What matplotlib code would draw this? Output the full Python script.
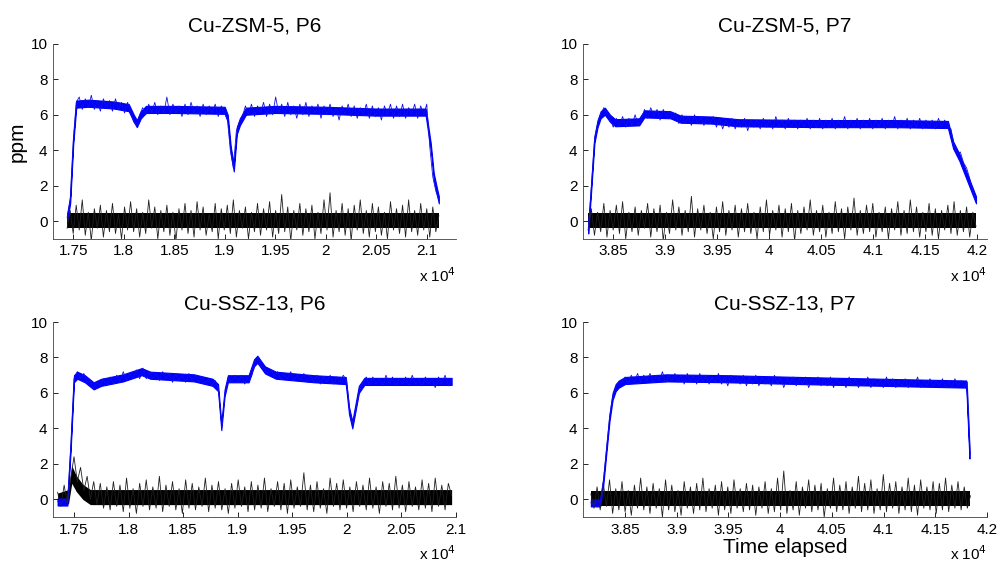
import numpy as np
import matplotlib
matplotlib.use('Agg')
import matplotlib.pyplot as plt
from matplotlib.ticker import FuncFormatter

plt.rcParams['font.family'] = ['Liberation Sans', 'DejaVu Sans']

# time spans are in units of 1e4 (shown as "x 10^4" under each axis)
titles = ['Cu-ZSM-5, P6', 'Cu-ZSM-5, P7', 'Cu-SSZ-13, P6', 'Cu-SSZ-13, P7']
spans = [[1.744, 2.112], [3.826, 4.199], [1.735, 2.096], [3.817, 4.184]]
xlims = [[1.730, 2.129], [3.821, 4.2096], [1.7308, 2.100], [3.8094, 4.200]]
xticks_p6 = [1.75, 1.8, 1.85, 1.9, 1.95, 2.0, 2.05, 2.1]
xticks_p7 = [3.85, 3.9, 3.95, 4.0, 4.05, 4.1, 4.15, 4.2]
yticks = [0, 2, 4, 6, 8, 10]

# blue trace (ppm): spike extremes, sampled evenly over the span
blue_zsm_p6 = [
    0.2, 1.2, 4.5, 6.7,
    7.0, 6.3, 6.9, 6.4, 7.1, 6.3, 6.8, 6.2, 6.9, 6.4, 6.8, 6.2, 6.9, 6.3, 6.7, 6.1, 6.7,
    6.2, 5.6, 5.4, 6.0, 6.4,
    6.0, 6.6, 6.1, 6.7, 6.0, 6.5, 6.1, 7.0, 6.0, 6.6, 6.1, 6.5, 5.9, 6.6, 6.0, 6.7,
    6.1, 6.5, 5.9, 6.6, 6.0, 6.5, 6.1, 6.6, 5.9, 6.5, 6.1,
    5.8, 4.0, 3.0, 5.1, 5.6, 5.9,
    6.5, 6.0, 6.6, 5.9, 6.5, 6.1, 6.7, 5.9, 6.6, 6.0,
    7.0, 6.1, 6.6, 5.9, 6.7, 6.0, 6.5, 5.8, 6.6, 6.0,
    6.7, 5.9, 6.5, 6.1, 6.6, 5.8, 6.5, 6.0, 6.6, 5.9,
    6.4, 5.7, 6.5, 6.0, 6.6, 5.9, 6.5, 5.8, 6.4, 6.0,
    6.6, 5.8, 6.5, 5.9, 6.4, 5.7, 6.5, 6.0, 6.6, 5.8,
    6.5, 5.9, 6.6, 5.8, 6.4, 6.0, 6.6, 5.8, 6.5, 6.0,
    6.6, 4.2, 2.5, 1.7, 1.2,
]
blue_zsm_p7 = [
    -0.5, 2.0, 4.6, 5.5, 6.0, 6.4, 6.1, 5.8,
    5.3, 5.8, 5.4, 5.9, 5.3, 5.8, 5.4, 6.0, 5.4, 5.7,
    6.3, 5.8, 6.4, 5.9, 6.3, 5.7, 6.3, 5.9, 6.2, 5.8, 6.1,
    5.5, 6.0, 5.5, 5.9, 5.4, 6.0, 5.5, 5.9, 5.4, 5.8, 5.5, 5.9,
    5.3, 5.8, 5.2, 5.7, 5.3, 5.8, 5.2, 5.7, 5.3, 5.8,
    5.1, 5.7, 5.3, 5.7, 5.2, 5.8, 5.3, 5.7, 5.2, 5.9,
    5.3, 5.7, 5.2, 5.8, 5.3, 5.7, 5.2, 5.7, 5.3, 5.8,
    5.2, 5.7, 5.3, 5.8, 5.2, 5.7, 5.3, 5.8, 5.2, 5.7,
    5.3, 5.9, 5.2, 5.7, 5.3, 5.8, 5.2, 5.7, 5.3, 5.8,
    5.2, 5.7, 5.3, 5.8, 5.2, 5.7, 5.3, 5.9, 5.2, 5.7,
    5.3, 5.8, 5.2, 5.7, 5.3, 5.8, 5.2, 5.7, 5.3, 5.7,
    5.2, 5.8, 5.3, 5.7, 5.3,
    5.2, 4.3, 3.8, 3.9, 3.3, 3.0, 2.4, 1.7, 1.2,
]
blue_ssz_p6 = [
    -0.1, -0.3, 0.0, -0.2, 3.0, 6.8,
    7.2, 6.8, 7.1,
    6.6, 6.7, 6.2, 6.6, 6.4,
    6.8, 6.4, 6.9, 6.5, 7.0, 6.6, 7.2, 6.7, 7.1, 6.8, 7.3, 6.8,
    7.4,
    6.8, 7.2, 6.8, 7.1, 6.7, 7.2, 6.8, 7.1, 6.6, 7.1, 6.7, 7.0, 6.6, 7.1, 6.7, 7.0, 6.6, 6.9,
    6.5, 6.8, 6.4, 6.7,
    6.2, 4.1, 6.0, 6.9,
    6.6, 7.0, 6.6, 7.0, 6.5, 6.9,
    6.9, 7.7, 8.0, 7.5, 7.4, 7.1, 7.3,
    6.9, 7.2, 6.8, 7.1, 6.8, 7.2, 6.7, 7.0, 6.7, 7.1, 6.6,
    7.0, 6.6, 7.0, 6.5, 6.9, 6.6, 7.0, 6.5, 6.9, 6.6, 7.0,
    6.7, 5.0, 4.2, 5.2, 6.2, 6.6,
    6.9, 6.4, 6.9, 6.5, 6.8, 6.4, 7.0, 6.5, 6.9, 6.4, 6.8, 6.5, 6.9, 6.4,
    7.0, 6.5, 6.8, 6.4, 6.9, 6.5, 6.8, 6.3, 6.9, 6.5, 7.0, 6.4, 6.7,
]
blue_ssz_p7 = [
    -0.2, -0.3, -0.1, -0.2, 1.0, 2.8, 4.6, 5.8, 6.3, 6.5, 6.6,
    6.9, 6.5, 7.0, 6.6, 7.1, 6.6, 7.0, 6.7, 7.1, 6.6,
    7.0, 6.7, 7.2, 6.6, 7.0, 6.7, 7.1, 6.6, 7.0, 6.5,
    7.1, 6.6, 7.0, 6.5, 7.1, 6.6, 7.0, 6.5, 6.9, 6.6,
    7.1, 6.5, 6.9, 6.4, 7.0, 6.6, 6.9, 6.5, 7.0, 6.4,
    6.9, 6.5, 7.0, 6.4, 6.9, 6.5, 6.8, 6.4, 7.0, 6.5,
    6.9, 6.3, 6.8, 6.5, 6.9, 6.4, 6.8, 6.5, 6.9, 6.3,
    6.8, 6.5, 6.9, 6.4, 6.8, 6.4, 6.9, 6.3, 6.8, 6.5,
    6.7, 6.3, 6.9, 6.4, 6.8, 6.3, 6.7, 6.4, 6.9, 6.3,
    6.8, 6.4, 6.7, 6.3, 6.9, 6.4, 6.8, 6.3, 6.7, 6.4,
    6.8, 6.3, 6.7, 6.4, 6.9, 6.3, 6.7, 6.4, 6.8, 6.3,
    6.7, 6.4, 6.8, 6.3, 6.7, 6.3, 6.8, 6.4, 6.7, 6.3,
    6.6,
    2.5,
]

# blue trace dense core: centre line knots (time, ppm)
blue_core_t = [
    [1.744, 1.747, 1.750, 1.753, 1.765, 1.790, 1.805, 1.810, 1.813, 1.817, 1.822,
     1.85, 1.90, 1.903, 1.906, 1.909, 1.912, 1.915, 1.921, 1.95, 2.0, 2.05, 2.099,
     2.104, 2.107, 2.110, 2.112],
    [3.826, 3.829, 3.832, 3.835, 3.838, 3.842, 3.847, 3.852, 3.875, 3.880, 3.905,
     3.915, 3.945, 3.97, 4.05, 4.12, 4.172, 4.177, 4.183, 4.189, 4.195, 4.199],
    [1.735, 1.744, 1.747, 1.750, 1.753, 1.760, 1.768, 1.775, 1.795, 1.812, 1.820,
     1.86, 1.877, 1.882, 1.885, 1.888, 1.891, 1.910, 1.915, 1.918, 1.925, 1.935,
     1.97, 1.999, 2.002, 2.005, 2.008, 2.011, 2.016, 2.096],
    [3.817, 3.826, 3.829, 3.832, 3.835, 3.838, 3.841, 3.844, 3.850, 3.89, 3.95,
     4.02, 4.10, 4.180, 4.183],
]
blue_core_c = [
    [0.2, 1.2, 4.5, 6.6, 6.65, 6.55, 6.4, 5.8, 5.5, 6.0, 6.3,
     6.3, 6.25, 5.8, 4.0, 3.0, 5.1, 5.6, 6.2, 6.3, 6.25, 6.15, 6.15,
     4.2, 2.5, 1.7, 1.2],
    [-0.5, 2.0, 4.6, 5.5, 6.0, 6.2, 5.8, 5.55, 5.6, 6.05, 6.0,
     5.75, 5.7, 5.55, 5.5, 5.5, 5.45, 4.3, 3.6, 2.7, 1.8, 1.2],
    [-0.15, -0.15, 3.0, 6.8, 7.0, 6.8, 6.4, 6.6, 6.85, 7.2, 7.0,
     6.85, 6.6, 6.3, 4.1, 6.0, 6.8, 6.8, 7.7, 7.9, 7.3, 7.0,
     6.8, 6.7, 5.0, 4.2, 5.2, 6.2, 6.65, 6.65],
    [-0.2, -0.2, 1.0, 2.8, 4.6, 5.8, 6.3, 6.5, 6.7, 6.85, 6.8,
     6.7, 6.6, 6.5, 2.5],
]

# black trace (ppm): spike extremes, sampled evenly over the span
black_zsm_p6 = [
    -0.4, 0.6, -0.7, 0.9, -0.5, 1.2, -0.8, 0.5, -1.1, 0.7, -0.4, 0.9, -0.9, 0.6, -0.6, 1.0, -0.7, 0.4, -1.0, 0.8,
    -0.5, 1.1, -0.6, 0.7, -0.9, 0.5, -0.7, 1.2, -0.4, 0.8, -1.0, 0.6, -0.6, 0.9, -0.8, 0.5, -1.1, 0.7, -0.5, 1.0,
    -0.7, 0.6, -0.9, 1.1, -0.5, 0.8, -0.8, 0.4, -0.6, 1.0, -1.0, 0.7, -0.5, 0.9, -0.7, 1.2, -0.9, 0.6, -0.4, 0.8,
    -1.0, 0.5, -0.6, 1.0, -0.8, 0.7, -0.5, 1.1, -0.9, 0.6, -0.7, 1.5, -0.6, 0.8, -1.1, 0.6, -0.5, 1.0, -0.8, 0.7,
    -0.6, 0.9, -1.0, 0.5, -0.7, 1.2, -0.5, 1.6, -0.9, 0.6, -0.6, 1.0, -0.8, 0.7, -1.1, 0.9, -0.5, 1.2, -0.7, 0.6,
    -0.9, 1.0, -0.6, 0.8, -0.8, 0.5, -1.0, 1.1, -0.5, 0.7, -0.7, 0.9, -0.9, 1.2, -0.6, 0.6, -0.8, 1.0, -0.5, 0.7,
    -0.9, 0.8, -0.6, 0.3,
]
black_zsm_p7 = [
    -0.5, 0.7, -0.8, 0.5, -0.6, 1.0, -0.9, 0.6, -0.5, 0.9,
    -0.7, 1.1, -1.0, 0.5, -0.6, 0.8, -0.8, 0.6, -0.4, 1.0,
    -0.9, 0.7, -0.6, 0.9, -1.1, 0.5, -0.7, 1.2, -0.5, 0.8,
    -0.8, 0.6, -0.6, 1.4, -0.9, 0.7, -0.5, 0.9, -0.7, 0.5,
    -1.0, 0.8, -0.6, 1.1, -0.8, 0.6, -0.5, 0.9, -0.9, 0.7,
    -0.6, 1.0, -0.7, 0.5, -1.0, 0.8, -0.6, 1.2, -0.8, 0.6,
    -0.5, 0.9, -0.9, 0.7, -0.6, 1.0, -1.1, 0.6, -0.7, 0.8,
    -0.5, 1.2, -0.8, 0.6, -0.6, 0.9, -0.9, 0.5, -0.7, 1.1,
    -0.6, 0.7, -1.0, 0.8, -0.5, 1.3, -0.8, 0.6, -0.7, 0.9,
    -0.6, 1.0, -0.9, 0.5, -0.6, 0.8, -1.0, 0.7, -0.5, 1.1,
    -0.8, 0.6, -0.7, 1.2, -0.6, 0.8, -0.9, 0.5, -0.6, 1.0,
    -0.8, 0.7, -1.0, 0.6, -0.5, 0.9, -0.7, 1.1, -0.8, 0.6,
    -0.6, 0.8, -0.9, 0.5, -0.3,
]
black_ssz_p6 = [
    0.4, -0.4, 0.8, -0.3,
    1.2, 2.4, 1.0, 1.8, 0.5, 1.3, 0.0, 1.0, -0.3, 0.9,
    -0.5, 0.7, -0.6, 1.0, -0.4, 0.8, -0.7, 1.2, -0.5, 0.6,
    -0.8, 0.9, -0.4, 1.1, -0.6, 0.7, -0.5, 1.3, -0.7, 0.8,
    -0.4, 1.0, -0.6, 0.6, -0.8, 1.1, -0.5, 0.9, -0.6, 0.7,
    -0.4, 1.2, -0.7, 0.8, -0.5, 1.0, -0.6, 0.6, -0.8, 0.9,
    -0.5, 1.1, -0.4, 0.7, -0.7, 1.0, -0.6, 0.8, -0.5, 1.2,
    -0.7, 0.6, -0.4, 1.0, -0.6, 0.9, -0.8, 1.1, -0.5, 0.7,
    -0.4, 1.5, -0.6, 0.8, -0.7, 1.0, -0.5, 0.6, -0.8, 1.2,
    -0.4, 0.9, -0.6, 1.1, -0.5, 0.7, -0.7, 1.0, -0.4, 0.8,
    -0.6, 1.2, -0.5, 0.7, -0.8, 1.0, -0.4, 0.9, -0.6, 1.3,
    -0.5, 0.8, -0.7, 1.0, -0.4, 0.7, -0.6, 1.1, -0.5, 0.9,
    -0.7, 1.2, -0.4, 0.8, -0.6, 0.9, 0.2,
]
black_ssz_p7 = [
    0.3, -0.5, 0.7, -0.6, 0.9, -0.4, 1.1, -0.8, 0.6, -0.6,
    1.0, -0.7, 0.5, -0.9, 0.8, -0.5, 1.2, -0.6, 0.7, -0.8,
    0.9, -0.5, 0.6, -1.0, 1.1, -0.6, 0.8, -0.7, 0.5, -0.9,
    1.0, -0.5, 0.7, -0.8, 0.9, -0.6, 1.2, -0.7, 0.6, -0.5,
    0.8, -0.9, 1.0, -0.6, 0.7, -0.8, 1.1, -0.5, 0.6, -0.7,
    0.9, -0.6, 0.8, -0.9, 0.7, -0.5, 1.0, -0.8, 0.6, -0.7,
    1.2, -0.6, 1.6, -0.8, 0.5, -0.6, 1.0, -0.9, 0.7, -0.5,
    1.1, -0.7, 0.8, -0.6, 0.9, -1.0, 0.6, -0.5, 1.2, -0.7,
    0.8, -0.6, 1.0, -0.8, 0.7, -0.5, 1.3, -0.7, 0.9, -0.6,
    1.1, -0.8, 0.6, -0.6, 1.4, -0.7, 0.9, -0.5, 1.0, -0.8,
    0.7, -0.6, 1.2, -0.7, 0.8, -0.9, 1.1, -0.5, 0.7, -0.6,
    1.0, -0.8, 0.9, -0.6, 1.2, -0.7, 0.8, -0.5, 1.0, -0.6,
    0.7, -0.5, 0.2,
]

# black trace dense core: knots (time, low, high)
black_core_t = [
    [1.744, 2.112],
    [3.826, 4.199],
    [1.735, 1.745, 1.748, 1.752, 1.758, 1.765, 2.096],
    [3.817, 4.184],
]
black_core_lo = [
    [-0.4, -0.4],
    [-0.4, -0.4],
    [-0.3, -0.25, 0.9, 0.45, 0.0, -0.3, -0.3],
    [-0.4, -0.4],
]
black_core_hi = [
    [0.45, 0.45],
    [0.45, 0.45],
    [0.35, 0.55, 1.9, 1.35, 0.85, 0.55, 0.55],
    [0.45, 0.45],
]

blues = [blue_zsm_p6, blue_zsm_p7, blue_ssz_p6, blue_ssz_p7]
blacks = [black_zsm_p6, black_zsm_p7, black_ssz_p6, black_ssz_p7]
xtick_sets = [xticks_p6, xticks_p7, xticks_p6, xticks_p7]

# axes boxes in figure fraction (left, bottom, width, height)
boxes = [
    [0.053, 0.575, 0.403, 0.347],
    [0.583, 0.575, 0.404, 0.347],
    [0.053, 0.080, 0.403, 0.347],
    [0.583, 0.080, 0.404, 0.347],
]
blue_half = 0.2  # thickness of the dense blue core, ppm

fig = plt.figure(figsize=(10, 5.62), dpi=100)
fmt = FuncFormatter(lambda v, p: f"{v:g}")

for i in range(4):
    ax = fig.add_axes(boxes[i])
    t_black = np.linspace(spans[i][0], spans[i][1], len(blacks[i]))
    t_blue = np.linspace(spans[i][0], spans[i][1], len(blues[i]))

    ax.fill_between(black_core_t[i], black_core_lo[i], black_core_hi[i],
                    color='black', lw=0)
    ax.plot(t_black, blacks[i], color='#202020', lw=0.6)

    bc = np.array(blue_core_c[i])
    ax.fill_between(blue_core_t[i], bc - blue_half, bc + blue_half,
                    color='blue', lw=0.8, edgecolor='blue')
    ax.plot(t_blue, blues[i], color='#1010e0', lw=0.6)

    ax.set_xlim(xlims[i])
    ax.set_ylim(-1, 10)
    ax.set_xticks(xtick_sets[i])
    ax.set_yticks(yticks)
    ax.xaxis.set_major_formatter(fmt)
    ax.tick_params(direction='in', length=3.5, width=0.6, labelsize=11,
                   colors='black', pad=4)
    for side in ('top', 'right'):
        ax.spines[side].set_visible(False)
    for side in ('left', 'bottom'):
        ax.spines[side].set_linewidth(0.6)
        ax.spines[side].set_color('#404040')
    ax.set_title(titles[i], fontsize=15, pad=9)
    ax.text(1.0, -0.19, r'x 10$^4$', transform=ax.transAxes,
            ha='right', va='center', fontsize=11)
    if i == 0:
        ax.set_ylabel('ppm', fontsize=15, labelpad=3)
    if i == 3:
        ax.set_xlabel('Time elapsed', fontsize=15, labelpad=1)

fig.savefig('out.png', dpi=100)
